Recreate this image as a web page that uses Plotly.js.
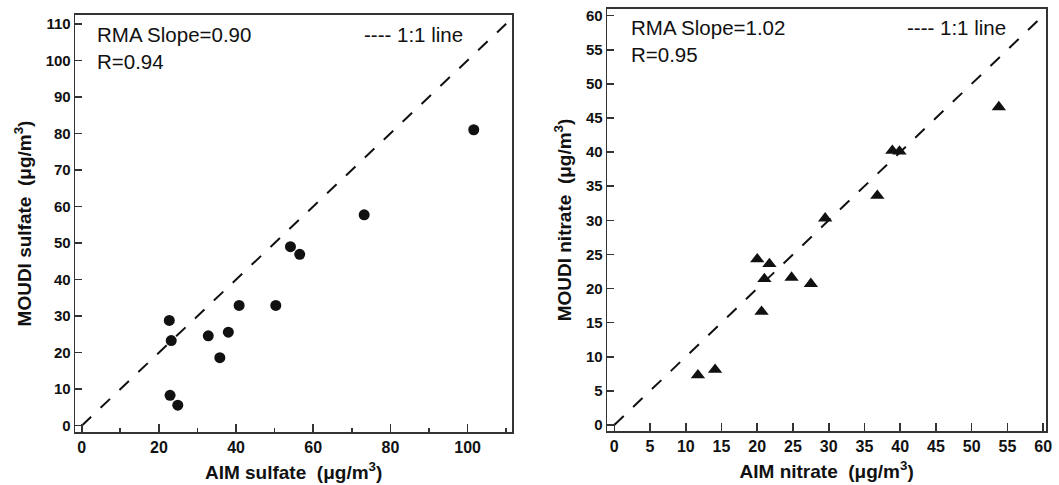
<!DOCTYPE html>
<html>
<head>
<meta charset="utf-8">
<script src="https://cdn.plot.ly/plotly-3.0.1.min.js"></script>
<style>html,body{margin:0;padding:0;background:#fff;}#chart{width:1059px;height:485px;}</style>
</head>
<body>
<div id="chart"></div>
<script>
// Sulfate panel (AIM vs MOUDI, µg/m3)
const sulfateAIM   = [101.6, 73.2, 54.1, 56.5, 40.8, 50.3, 22.7, 23.2, 32.8, 38.0, 35.8, 22.9, 24.9];
const sulfateMOUDI = [81.0, 57.7, 49.0, 46.9, 32.9, 32.9, 28.8, 23.3, 24.6, 25.6, 18.6, 8.3, 5.6];
// Nitrate panel
const nitrateAIM   = [53.8, 38.9, 39.9, 36.8, 29.5, 20.0, 21.7, 21.0, 24.8, 27.5, 20.6, 11.7, 14.1];
const nitrateMOUDI = [46.6, 40.2, 40.1, 33.6, 30.3, 24.3, 23.6, 21.4, 21.6, 20.7, 16.6, 7.3, 8.1];
// 1:1 reference lines
const oneToOneSulfate = [0, 110];
const oneToOneNitrate = [0, 60];
// Statistics text
const sulfateStats = ['RMA Slope=0.90', 'R=0.94'];
const nitrateStats = ['RMA Slope=1.02', 'R=0.95'];
const lineLabel = '---- 1:1 line';
const titles = {
  sulfX: 'AIM sulfate\u00a0\u00a0(μg/m<sup>3</sup>)',
  sulfY: 'MOUDI sulfate\u00a0\u00a0(μg/m<sup>3</sup>)',
  nitX: 'AIM nitrate\u00a0\u00a0(μg/m<sup>3</sup>)',
  nitY: 'MOUDI nitrate\u00a0\u00a0(μg/m<sup>3</sup>)'
};

const FONT = 'Liberation Sans, Arial, Helvetica, sans-serif';
const INK = '#111';

const traces = [
  {x: oneToOneSulfate, y: oneToOneSulfate, xaxis: 'x', yaxis: 'y', mode: 'lines',
   line: {color: INK, width: 2, dash: '13px,13px'}, showlegend: false, hoverinfo: 'skip'},
  {x: sulfateAIM, y: sulfateMOUDI, xaxis: 'x', yaxis: 'y', mode: 'markers',
   marker: {symbol: 'circle', size: 11, color: INK}, showlegend: false},
  {x: oneToOneNitrate, y: oneToOneNitrate, xaxis: 'x2', yaxis: 'y2', mode: 'lines',
   line: {color: INK, width: 2, dash: '13px,13px'}, showlegend: false, hoverinfo: 'skip'},
  {x: nitrateAIM, y: nitrateMOUDI, xaxis: 'x2', yaxis: 'y2', mode: 'markers',
   marker: {symbol: 'triangle-up', size: 12.5, color: INK}, showlegend: false}
];

const tickFont = {family: FONT, size: 16, color: INK, weight: 'bold'};
const titleFont = {family: FONT, size: 19, color: INK, weight: 'bold'};
const noteFont = {family: FONT, size: 20.5, color: INK};
const axisBase = {
  showline: true, mirror: true, linecolor: '#333', linewidth: 1.6,
  showgrid: false, zeroline: false, ticks: 'inside', tickcolor: '#333', tickwidth: 1.6,
  tickfont: tickFont, automargin: false
};

const layout = {
  width: 1059, height: 485,
  margin: {l: 75, r: 13, t: 9, b: 53},
  paper_bgcolor: '#fff', plot_bgcolor: '#fff',
  font: {family: FONT, color: INK},
  showlegend: false,
  xaxis: Object.assign({}, axisBase, {
    domain: [0.0003, 0.450], range: [-1.66, 111.5], anchor: 'y',
    tick0: 0, dtick: 20, ticklen: 8,
    minor: {dtick: 10, tick0: 0, ticks: 'inside', ticklen: 4, tickcolor: '#333', tickwidth: 1.6},
    title: {text: titles.sulfX, font: titleFont, standoff: 11}
  }),
  yaxis: Object.assign({}, axisBase, {
    domain: [0, 0.9858], range: [-1.73, 112.4], anchor: 'x',
    tick0: 0, dtick: 10, ticklen: 7,
    tickfont: Object.assign({}, tickFont, {size: 15}),
    title: {text: titles.sulfY, font: titleFont, standoff: 9}
  }),
  xaxis2: Object.assign({}, axisBase, {
    domain: [0.5482, 1.0], range: [-0.98, 60.4], anchor: 'y2',
    tick0: 0, dtick: 5, ticklen: 8,
    title: {text: titles.nitX, font: titleFont, standoff: 11}
  }),
  yaxis2: Object.assign({}, axisBase, {
    domain: [0.0024, 1.0], range: [-0.88, 60.97], anchor: 'x2',
    tick0: 0, dtick: 5, ticklen: 7,
    tickfont: Object.assign({}, tickFont, {size: 15}),
    title: {text: titles.nitY, font: titleFont, standoff: 9}
  }),
  annotations: [
    {xref: 'x domain', yref: 'y domain', x: 0.045, y: 0.985, xanchor: 'left', yanchor: 'top',
     align: 'left', showarrow: false, text: sulfateStats.join('<br>'), font: noteFont},
    {xref: 'x domain', yref: 'y domain', x: 0.892, y: 0.985, xanchor: 'right', yanchor: 'top',
     align: 'right', showarrow: false, text: lineLabel, font: noteFont},
    {xref: 'x2 domain', yref: 'y2 domain', x: 0.050, y: 0.988, xanchor: 'left', yanchor: 'top',
     align: 'left', showarrow: false, text: nitrateStats.join('<br>'), font: noteFont},
    {xref: 'x2 domain', yref: 'y2 domain', x: 0.913, y: 0.988, xanchor: 'right', yanchor: 'top',
     align: 'right', showarrow: false, text: lineLabel, font: noteFont}
  ]
};

Plotly.newPlot('chart', traces, layout, {displayModeBar: false, staticPlot: true});
</script>
</body>
</html>
